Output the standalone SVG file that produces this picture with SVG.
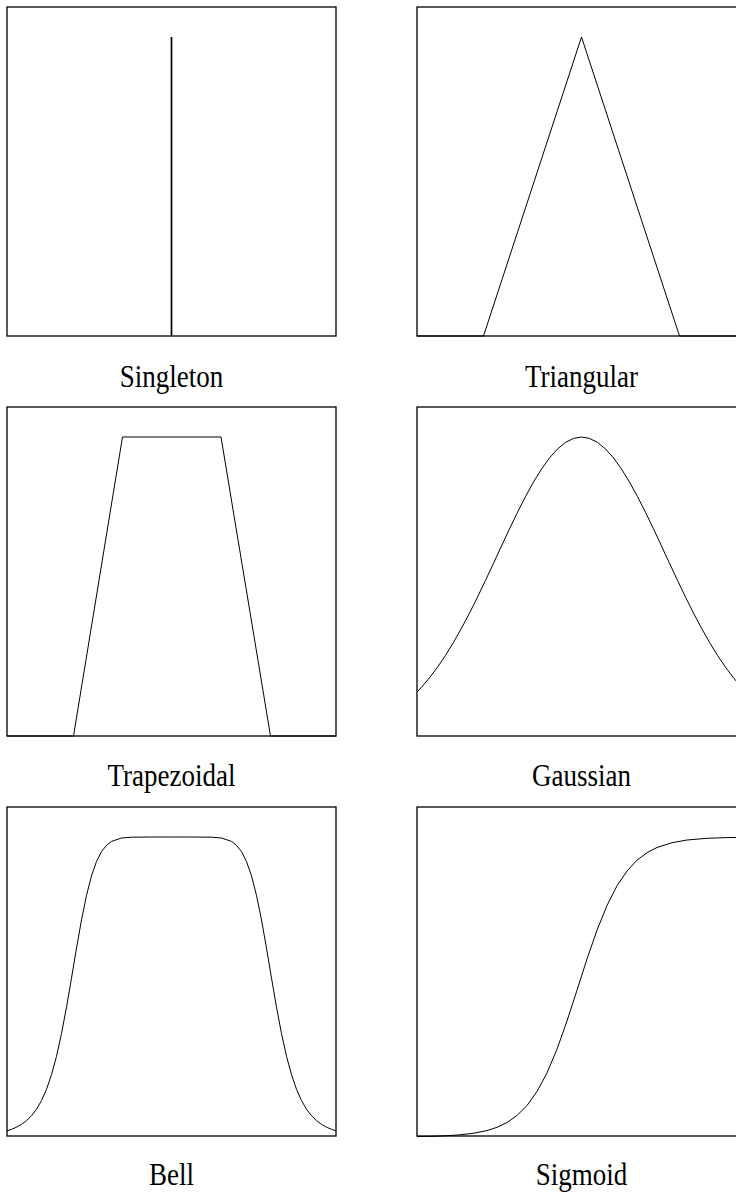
<svg xmlns="http://www.w3.org/2000/svg" width="736" height="1194" viewBox="0 0 736 1194">
<style>
.box{fill:none;stroke:#000;stroke-width:1.3}
.curve{fill:none;stroke:#000;stroke-width:1;stroke-linejoin:round}
.lbl{font-family:"Liberation Serif","Times New Roman",serif;font-size:27px;fill:#000;text-anchor:middle}
</style>
<rect width="736" height="1194" fill="#fff"/>
<g id="singleton">
<rect class="box" x="7" y="7" width="329" height="329"/>
<line x1="171.5" y1="37" x2="171.5" y2="336" stroke="#000" stroke-width="1.7"/>
<text class="lbl" transform="translate(171.5,387) scale(1,1.15)">Singleton</text>
</g>
<g id="triangular">
<rect class="box" x="417" y="7" width="329" height="329"/>
<polyline class="curve" points="417,336 483.5,336 581.5,37 679.5,336 746,336"/>
<text class="lbl" transform="translate(581.5,387) scale(1,1.15)">Triangular</text>
</g>
<g id="trapezoidal">
<rect class="box" x="7" y="407" width="329" height="329"/>
<polyline class="curve" points="7,736 73.5,736 122.5,437 221,437 270.5,736 336,736"/>
<text class="lbl" transform="translate(171.5,786) scale(1,1.15)">Trapezoidal</text>
</g>
<g id="gaussian">
<rect class="box" x="417" y="407" width="329" height="329"/>
<polyline class="curve" points="417,692.1 421.5,687.3 429.5,677.8 437.5,667.2 445.5,655.4 453.5,642.4 461.5,628.2 469.5,613.1 477.5,597.1 485.5,580.4 493.5,563.3 501.5,546.0 509.5,528.9 517.5,512.3 525.5,496.6 533.5,482.0 541.5,469.1 549.5,457.9 557.5,449.0 565.5,442.4 573.5,438.4 581.5,437 589.5,438.4 597.5,442.4 605.5,449.0 613.5,457.9 621.5,469.1 629.5,482.0 637.5,496.6 645.5,512.3 653.5,528.9 661.5,546.0 669.5,563.3 677.5,580.4 685.5,597.1 693.5,613.1 701.5,628.2 709.5,642.4 717.5,655.4 725.5,667.2 733.5,677.8 741.5,687.3 746,692.1"/>
<text class="lbl" transform="translate(581.5,786) scale(1,1.15)">Gaussian</text>
</g>
<g id="bell">
<rect class="box" x="7" y="807" width="329" height="329"/>
<polyline class="curve" points="7,1130.8 11.5,1129.3 16.5,1127.2 21.5,1124.4 26.5,1120.6 31.5,1115.7 36.5,1109.2 41.5,1100.6 46.5,1089.3 51.5,1074.7 56.5,1056.3 61.5,1033.6 66.5,1007.2 71.5,978.1 76.5,948.2 81.5,919.9 86.5,895.4 91.5,875.9 96.5,861.5 101.5,851.6 106.5,845.3 111.5,841.4 121.5,838.0 131.5,837.2 151.5,837 171.5,837 191.5,837 211.5,837.2 221.5,838.0 231.5,841.4 236.5,845.3 241.5,851.6 246.5,861.5 251.5,875.9 256.5,895.4 261.5,919.9 266.5,948.2 271.5,978.1 276.5,1007.2 281.5,1033.6 286.5,1056.3 291.5,1074.7 296.5,1089.3 301.5,1100.6 306.5,1109.2 311.5,1115.7 316.5,1120.6 321.5,1124.4 326.5,1127.2 331.5,1129.3 336,1130.8"/>
<text class="lbl" transform="translate(171.5,1185) scale(1,1.15)">Bell</text>
</g>
<g id="sigmoid">
<rect class="box" x="417" y="807" width="329" height="329"/>
<polyline class="curve" points="417,1136.6 437,1136.2 457,1135.1 472,1133.5 487,1130.6 497,1127.3 507,1122.5 517,1115.5 527,1105.5 537,1091.5 547,1072.9 557,1049.2 567,1021.0 577,990.2 587,959.0 597,930.1 607,905.5 617,885.8 627,871.0 637,860.2 647,852.7 657,847.5 672,842.7 687,840.0 707,838.3 727,837.6 746,837.3"/>
<text class="lbl" transform="translate(581.5,1185) scale(1,1.15)">Sigmoid</text>
</g>
<g id="connectors"/>
</svg>
